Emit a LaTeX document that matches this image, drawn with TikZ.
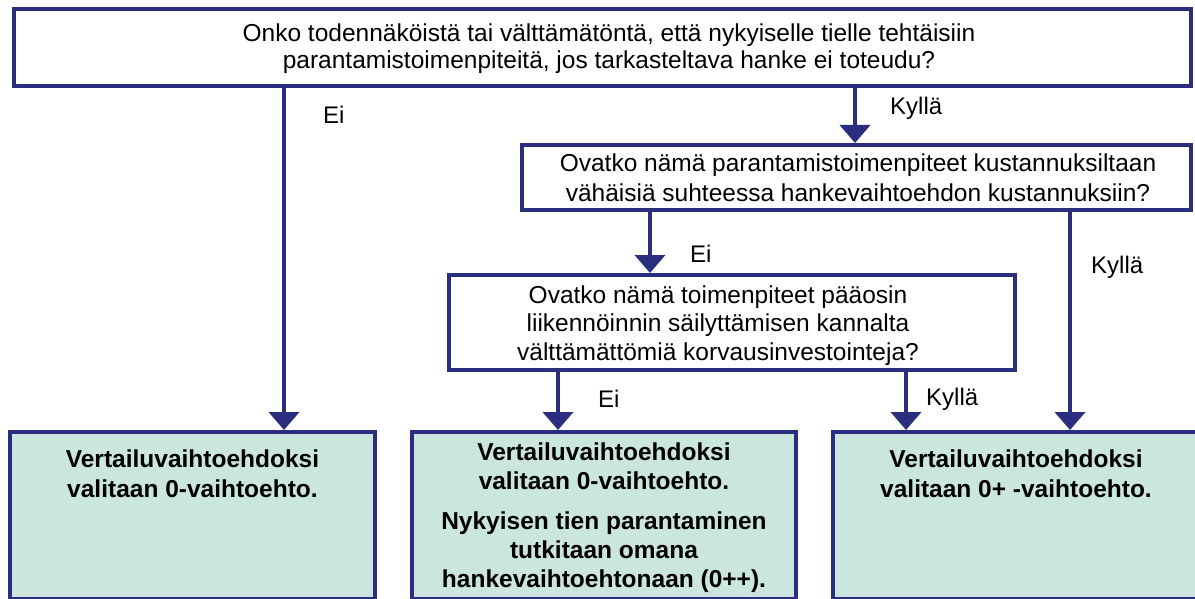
\documentclass[tikz,border=0pt]{standalone}
\usepackage{fontspec}
\setmainfont{Liberation Sans}
\usetikzlibrary{arrows.meta}
\definecolor{navy}{RGB}{43,46,126}
\definecolor{mint}{RGB}{203,230,223}
\begin{document}
\begin{tikzpicture}[x=1pt,y=-1pt,
  qbox/.style={draw=navy, line width=4pt, fill=white, rectangle, inner sep=0pt, outer sep=0pt, anchor=north west},
  abox/.style={qbox, fill=mint},
  % multi-line texts are placed by the baseline of their last line
  qtext/.style={anchor=base, inner sep=0pt, align=center, font=\fontsize{24.5}{27}\selectfont},
  atext/.style={anchor=base, inner sep=0pt, align=center, font=\fontsize{24.5}{29.5}\selectfont\bfseries},
  lbl/.style={anchor=base west, inner sep=0pt, font=\fontsize{24}{29}\selectfont},
  flow/.style={draw=navy, line width=4pt, -{Triangle[width=30pt,length=18pt]}, shorten >=2pt}]
\useasboundingbox (0,0) rectangle (1195,599);

% question boxes
\node[qbox, minimum width=1177pt, minimum height=77pt] (q1) at (14,9) {};
\node[qbox, minimum width=669pt, minimum height=65pt] (q2) at (522,145) {};
\node[qbox, minimum width=566pt, minimum height=95pt] (q3) at (449,275) {};

% outcome boxes
\node[abox, minimum width=365pt, minimum height=167pt] (r1) at (10,432) {};
\node[abox, minimum width=384pt, minimum height=167pt] (r2) at (412,432) {};
\node[abox, minimum width=366pt, minimum height=167pt] (r3) at (833,432) {};

% texts
\node[qtext] (t1) at (609,69) {Onko todennäköistä tai välttämätöntä, että nykyiselle tielle tehtäisiin\\parantamistoimenpiteitä, jos tarkasteltava hanke ei toteudu?};
\node[qtext, font=\fontsize{24.5}{30}\selectfont] (t2) at (858,201) {Ovatko nämä parantamistoimenpiteet kustannuksiltaan\\vähäisiä suhteessa hankevaihtoehdon kustannuksiin?};
\node[qtext, font=\fontsize{24.5}{28.5}\selectfont] (t3) at (718,360) {Ovatko nämä toimenpiteet pääosin\\liikennöinnin säilyttämisen kannalta\\välttämättömiä korvausinvestointeja?};

\node[atext] (u1) at (192.5,497) {Vertailuvaihtoehdoksi\\valitaan 0-vaihtoehto.};
\node[atext, font=\fontsize{24.5}{29}\selectfont\bfseries] (u2) at (604,587) {Vertailuvaihtoehdoksi\\valitaan 0-vaihtoehto.\\[11pt]Nykyisen tien parantaminen\\tutkitaan omana\\hankevaihtoehtonaan (0++).};
\node[atext] (u3) at (1016,497) {Vertailuvaihtoehdoksi\\valitaan 0+ -vaihtoehto.};

% arrow columns
\coordinate (c1) at (284,0);
\coordinate (c2) at (855,0);
\coordinate (c3) at (650,0);
\coordinate (c4) at (1070,0);
\coordinate (c5) at (558,0);
\coordinate (c6) at (906,0);

\draw[flow] (c1 |- q1.south) -- (c1 |- r1.north);
\draw[flow] (c2 |- q1.south) -- (c2 |- q2.north);
\draw[flow] (c3 |- q2.south) -- (c3 |- q3.north);
\draw[flow] (c4 |- q2.south) -- (c4 |- r3.north);
\draw[flow] (c5 |- q3.south) -- (c5 |- r2.north);
\draw[flow] (c6 |- q3.south) -- (c6 |- r3.north);

% branch labels
\node[lbl] (l1) at (323,124) {Ei};
\node[lbl] (l2) at (890,115) {Kyllä};
\node[lbl] (l3) at (690,262) {Ei};
\node[lbl] (l4) at (1091,273) {Kyllä};
\node[lbl] (l5) at (598,407) {Ei};
\node[lbl] (l6) at (926,405) {Kyllä};
\end{tikzpicture}
\end{document}
